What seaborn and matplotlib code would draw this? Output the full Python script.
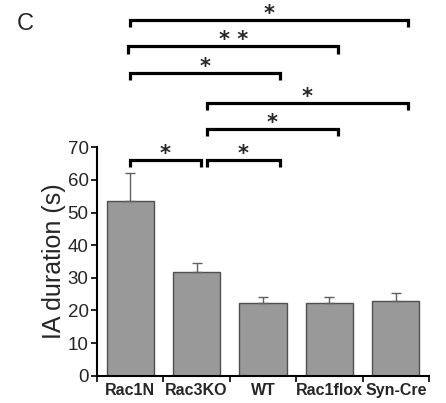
import matplotlib
matplotlib.use("Agg")
import matplotlib.pyplot as plt
import seaborn as sns
import pandas as pd
import numpy as np

# ---- data ----
groups = ["Rac1N", "Rac3KO", "WT", "Rac1flox", "Syn-Cre"]
means = [53.6, 31.7, 22.4, 22.3, 22.9]
sems = [8.4, 2.7, 1.7, 1.8, 2.5]
y_ticks = [0, 10, 20, 30, 40, 50, 60, 70]

# significance comparisons: (left group, right group, label)
comparisons = [
    ("Rac1N", "Syn-Cre", "*"),
    ("Rac1N", "Rac1flox", "* *"),
    ("Rac1N", "WT", "*"),
    ("Rac3KO", "Syn-Cre", "*"),
    ("Rac3KO", "Rac1flox", "*"),
    ("Rac1N", "Rac3KO", "*"),
    ("Rac3KO", "WT", "*"),
]
# layout of brackets (data units)
bracket_heights = [109.1, 100.9, 92.8, 83.6, 75.6, 66.1, 66.1]
left_offsets = [0.0, -0.03, 0.0, 0.15, 0.15, 0.0, 0.15]
right_offsets = [0.19, 0.13, 0.25, 0.19, 0.13, 0.06, 0.25]

sns.set_style("white")
plt.rcParams["font.family"] = ["Liberation Sans", "DejaVu Sans"]

fig = plt.figure(figsize=(4.46, 4.03), dpi=100)
ax = fig.add_axes([0.2175, 0.0677, 0.7445, 0.5668])

df = pd.DataFrame({"group": groups, "mean": means})
sns.barplot(data=df, x="group", y="mean", order=groups, color="#999999",
            edgecolor="#505050", linewidth=1.0, width=0.71, errorbar=None,
            saturation=1, ax=ax)

xpos = np.arange(len(groups))
ax.errorbar(xpos, means, yerr=[np.zeros(len(sems)), sems], fmt="none",
            ecolor="#606060", elinewidth=1.0, capsize=3.5, capthick=1.0,
            zorder=1)

ax.set_xlim(-0.5, len(groups) - 0.5)
ax.set_ylim(0, 70)
ax.set_yticks(y_ticks)
ax.set_yticklabels([str(v) for v in y_ticks], fontsize=13.5)
ax.set_xticks(xpos)
ax.set_xticklabels(groups, fontsize=11.5, fontweight="bold")
ax.set_xticks(np.arange(-0.5, len(groups), 1.0), minor=True)
ax.tick_params(axis="x", which="major", length=0, pad=5)
ax.tick_params(axis="x", which="minor", length=4, width=1.2, direction="out",
               bottom=True, color="black")
ax.tick_params(axis="y", length=4, width=1.2, direction="out", left=True,
               color="black", pad=2)
ax.set_xlabel("")
ax.set_ylabel("IA duration (s)", fontsize=18, labelpad=1)

for s in ["top", "right"]:
    ax.spines[s].set_visible(False)
for s in ["left", "bottom"]:
    ax.spines[s].set_color("black")
    ax.spines[s].set_linewidth(1.5)

idx = {g: i for i, g in enumerate(groups)}
drop = 2.2
for (a, b, lab), h, lo, ro in zip(comparisons, bracket_heights, left_offsets, right_offsets):
    x1 = idx[a] + lo
    x2 = idx[b] + ro
    ax.plot([x1, x1, x2, x2], [h - drop, h, h, h - drop], color="black",
            lw=2.3, clip_on=False, solid_joinstyle="miter", solid_capstyle="butt")
    ax.text((x1 + x2) / 2, h + 0.0, lab, ha="center", va="baseline",
            fontsize=15, fontweight="bold", family="DejaVu Sans",
            clip_on=False)

fig.text(0.056, 0.94, "C", fontsize=17, ha="center", va="center")

fig.savefig("out.png", dpi=100)
